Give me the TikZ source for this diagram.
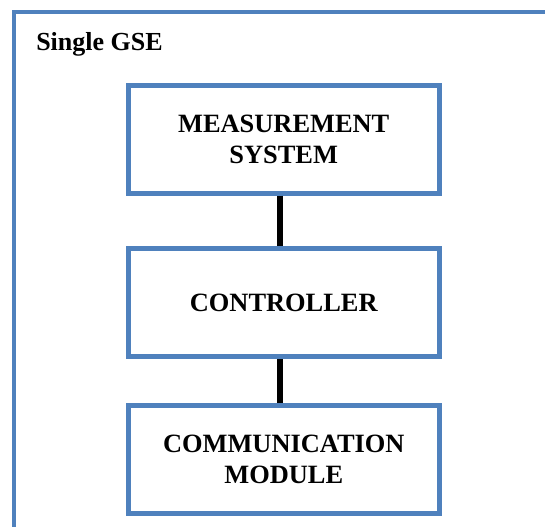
\documentclass[tikz,border=0pt]{standalone}
\usepackage{fontspec}
\setmainfont{Liberation Serif}
\definecolor{frameblue}{HTML}{4F81BD}
\begin{document}
\begin{tikzpicture}[x=0.75pt,y=-0.75pt,
  boxstyle/.style={draw=frameblue, line width=3.75pt, minimum width=232.9pt, minimum height=81pt, inner sep=0pt, align=center, font=\fontsize{19.8}{23.25}\selectfont\bfseries},
  linkstyle/.style={draw=black, line width=4.5pt}]
\useasboundingbox (0,0) rectangle (545,526);
\fill[white] (0,0) rectangle (545,526);
\begin{scope}
\clip (0,0) rectangle (545,526);
\draw[frameblue, line width=3pt] (14,12) rectangle (620,620);
\end{scope}
\node[anchor=base west, inner sep=0pt, font=\fontsize{19.5}{23.25}\selectfont\bfseries] (title) at (36,50) {Single GSE};
\node[boxstyle] (meas) at (283.75,139) {MEASUREMENT\\SYSTEM};
\node[boxstyle] (ctrl) at (283.75,302.5) {CONTROLLER};
\node[boxstyle] (comm) at (283.75,459) {COMMUNICATION\\MODULE};
\draw[linkstyle] ([xshift=-3pt]meas.south) -- ([xshift=-3pt]ctrl.north);
\draw[linkstyle] ([xshift=-3pt]ctrl.south) -- ([xshift=-3pt]comm.north);
\end{tikzpicture}
\end{document}
